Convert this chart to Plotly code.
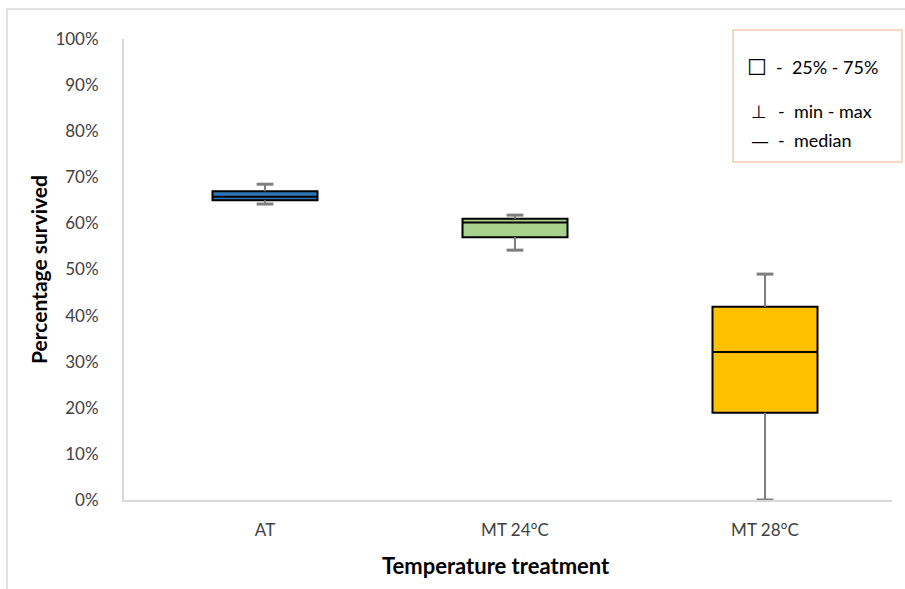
import plotly.graph_objects as go

categories = ["AT", "MT 24°C", "MT 28°C"]
q1 = [0.650, 0.570, 0.189]
median = [0.658, 0.602, 0.321]
q3 = [0.670, 0.610, 0.419]
vmin = [0.642, 0.542, 0.0]
vmax = [0.685, 0.618, 0.490]
colors = ["#2e75b6", "#a9d18e", "#ffc000"]
ytick_vals = [i / 10 for i in range(11)]
ytick_text = [f"{i*10}%" for i in range(11)]
legend_symbols = ["☐", "⊥", "—"]
legend_labels = ["-  25% - 75%", "-  min - max", "-  median"]

W, H = 905, 589
L, R, T, B = 124, 13, 39, 89
pw, ph = W - L - R, H - T - B

fig = go.Figure()

for i, c in enumerate(categories):
    fig.add_trace(go.Box(
        x=[c], q1=[q1[i]], median=[median[i]], q3=[q3[i]],
        lowerfence=[q1[i]], upperfence=[q3[i]],
        fillcolor=colors[i], line=dict(color="#000000", width=2),
        width=0.42, whiskerwidth=0, showlegend=False, boxpoints=False))

# whisker segments (grey)
wx, wy = [], []
for i, c in enumerate(categories):
    wx += [c, c, None, c, c, None]
    wy += [q3[i], vmax[i], None, vmin[i], q1[i], None]
fig.add_trace(go.Scatter(x=wx, y=wy, mode="lines",
                         line=dict(color="#7f7f7f", width=2),
                         showlegend=False, hoverinfo="skip", connectgaps=False))
# whisker caps
fig.add_trace(go.Scatter(x=categories + categories, y=vmax + vmin, mode="markers",
                         marker=dict(symbol="line-ew", size=12,
                                     line=dict(color="#7f7f7f", width=3)),
                         showlegend=False, hoverinfo="skip"))

fig.update_layout(
    width=W, height=H,
    margin=dict(l=L, r=R, t=T, b=B, autoexpand=False),
    paper_bgcolor="white", plot_bgcolor="white",
    font=dict(family="Lato, Open Sans, sans-serif", color="#404040", size=17),
    xaxis=dict(type="category", categoryorder="array", categoryarray=categories,
               range=[-0.564, 2.508], showgrid=False, showline=True,
               linecolor="#d9d9d9", linewidth=2, ticks="", zeroline=False,
               ticklabelstandoff=14),
    yaxis=dict(range=[0, 1.0], tickvals=ytick_vals, ticktext=ytick_text,
               showgrid=False, showline=True, linecolor="#d9d9d9", linewidth=2,
               ticks="", zeroline=False, ticklabelstandoff=20,
               title=dict(text="<b>Percentage survived</b>", standoff=2,
                          font=dict(size=21, color="#000000"))),
)

# x axis title
fig.add_annotation(xref="paper", yref="paper", x=(496 - L) / pw, y=-(565 - (H - B)) / ph,
                   text="<b>Temperature treatment</b>", showarrow=False,
                   xanchor="center", yanchor="middle",
                   font=dict(size=22, color="#000000"))

# outer frame
fig.add_shape(type="rect", xref="paper", yref="paper",
              x0=(7 - L) / pw, x1=1.2, y0=-0.5, y1=1 + (T - 9) / ph,
              line=dict(color="#d9d9d9", width=1.5), layer="below")

# legend box
fig.add_shape(type="rect", xref="paper", yref="paper",
              x0=(733 - L) / pw, x1=(902 - L) / pw,
              y0=1 - (162 - T) / ph, y1=1 - (30 - T) / ph,
              line=dict(color="#f8cbad", width=1.5), fillcolor="white")

sym_sizes = [22, 18, 18]
sym_x = [757, 759, 760]
lab_x = [774, 776, 776]
for sym, lab, ypix, ss, sx, lx in zip(legend_symbols, legend_labels, [67, 111, 140],
                                      sym_sizes, sym_x, lab_x):
    fig.add_annotation(xref="paper", yref="paper", x=(sx - L) / pw,
                       y=1 - (ypix - T) / ph, text=sym, showarrow=False,
                       xanchor="center", yanchor="middle",
                       font=dict(size=ss, color="#000000",
                                 family="DejaVu Sans, sans-serif"))
    fig.add_annotation(xref="paper", yref="paper", x=(lx - L) / pw,
                       y=1 - (ypix - T) / ph, text=lab, showarrow=False,
                       xanchor="left", yanchor="middle",
                       font=dict(size=18, color="#000000"))

fig.write_html("out.html", config={"displayModeBar": False},
               post_script="document.body.style.margin='0';document.body.style.overflow='hidden';")
